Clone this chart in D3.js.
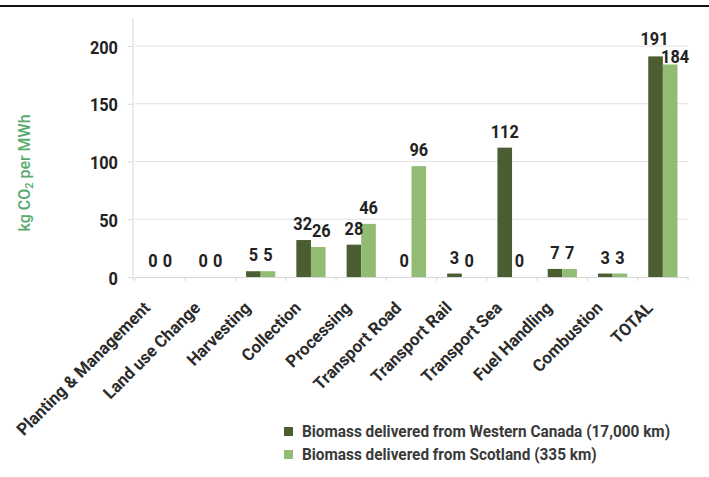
<!DOCTYPE html>
<html>
<head>
<meta charset="utf-8">
<script src="https://cdn.jsdelivr.net/npm/d3@7"></script>
<style>
  html, body { margin: 0; padding: 0; background: #fff; }
  svg { display: block; }
  text { font-family: Roboto, "DejaVu Sans Condensed", sans-serif; }
</style>
</head>
<body>
<svg id="chart" width="709" height="477"></svg>
<script>
// Emission stages (x axis)
const categories = [
  "Planting & Management", "Land use Change", "Harvesting", "Collection",
  "Processing", "Transport Road", "Transport Rail", "Transport Sea",
  "Fuel Handling", "Combustion", "TOTAL"
];
// kg CO2 per MWh for each supply route
const canadaValues   = [0, 0, 5, 32, 28, 0, 3, 112, 7, 3, 191];
const scotlandValues = [0, 0, 5, 26, 46, 96, 0, 0, 7, 3, 184];
const seriesNames = [
  "Biomass delivered from Western Canada (17,000 km)",
  "Biomass delivered from Scotland (335 km)"
];
const yTicks = [0, 50, 100, 150, 200];

const colors = ["#4b5e32", "#92bb73"];
const svg = d3.select("#chart");
const W = 709;
const m = { left: 135, right: 21, top: 18 };
const NARROW = 0.86;   // horizontal squeeze for a condensed look

// frame line along the top edge
svg.append("line").attr("x1", 0).attr("x2", W).attr("y1", 6).attr("y2", 6)
  .attr("stroke", "#111").attr("stroke-width", 2);

const x = d3.scaleBand().domain(categories).range([m.left, W - m.right]);
const y = d3.scaleLinear().domain([0, 200]).range([277, 46]);
const inner = d3.scaleBand().domain([0, 1]).range([0, x.bandwidth()]).paddingOuter(0.72);

// horizontal gridlines
svg.append("g").selectAll("line").data(yTicks.filter(d => d > 0)).join("line")
  .attr("x1", m.left).attr("x2", W - m.right)
  .attr("y1", d => y(d)).attr("y2", d => y(d))
  .attr("stroke", "#e2e2e2").attr("stroke-width", 1.2);

// y axis
const yAxis = d3.axisLeft(y).tickValues(yTicks).tickSize(5).tickFormat("");
const gy = svg.append("g").attr("transform", `translate(${m.left - 2},0)`).call(yAxis);
gy.select(".domain").attr("stroke", "#d8d8d8").attr("d", `M0,${m.top}V280`);
gy.selectAll(".tick line").attr("stroke", "#d8d8d8");
gy.selectAll(".tick").append("text")
  .attr("text-anchor", "end")
  .attr("transform", `translate(-15,7) scale(${NARROW},1)`)
  .attr("font-size", 19).attr("font-weight", "bold").attr("fill", "#222")
  .text(d => d);

// x axis
const gx = svg.append("g").attr("transform", `translate(0,${y(0)})`)
  .call(d3.axisBottom(x).tickSize(0).tickFormat(""));
gx.select(".domain").attr("stroke", "#d8d8d8").attr("stroke-width", 1.2);
// small tick marks at category boundaries
svg.append("g").selectAll("line").data(d3.range(categories.length + 1)).join("line")
  .attr("x1", i => m.left + i * x.step()).attr("x2", i => m.left + i * x.step())
  .attr("y1", y(0)).attr("y2", y(0) + 4)
  .attr("stroke", "#d8d8d8");

// rotated category labels
svg.append("g").selectAll("text").data(categories).join("text")
  .attr("text-anchor", "end")
  .attr("transform", d => `translate(${x(d) + x.bandwidth() / 2 - 9},${y(0) + 32}) rotate(-45) scale(0.98,1)`)
  .attr("font-size", 17).attr("font-weight", "bold").attr("fill", "#2b2b2b")
  .text(d => d);

// y axis title
svg.append("text")
  .attr("transform", "translate(30,173) rotate(-90)")
  .attr("text-anchor", "middle")
  .attr("font-size", 16).attr("font-weight", 500).attr("fill", "#5aaa6e")
  .html('kg CO<tspan font-size="11" dy="3">2</tspan><tspan dy="-3"> per MWh</tspan>');

// bars
const series = [canadaValues, scotlandValues];
series.forEach((vals, s) => {
  svg.append("g").selectAll("rect").data(vals).join("rect")
    .attr("x", (d, i) => x(categories[i]) + inner(s))
    .attr("width", inner.bandwidth())
    .attr("y", d => y(d))
    .attr("height", d => y(0) - y(d))
    .attr("fill", colors[s]);
});

// value labels, one pair per category; nudged apart where they collide
const labelG = svg.append("g");
const BOX = 18;
categories.forEach((c, i) => {
  const items = series.map((vals, s) => {
    const t = labelG.append("text")
      .attr("text-anchor", "middle")
      .attr("font-size", 19).attr("font-weight", "bold").attr("fill", "#222")
      .text(vals[i]);
    const w = t.node().getComputedTextLength() * NARROW;
    return { t, w, cx: x(c) + inner(s) + inner.bandwidth() / 2, base: y(vals[i]) - 10 };
  });
  const [a, b] = items;
  const hOverlap = (a.cx + a.w / 2) - (b.cx - b.w / 2);
  if (hOverlap > 0 && Math.abs(a.base - b.base) < 14) {
    a.cx -= 1; b.cx += 3;
    const rest = (a.cx + a.w / 2) - (b.cx - b.w / 2);
    if (rest > 2) {
      // stack them: the lower label drops onto its bar, the higher one lifts clear
      const [hi, lo] = a.base <= b.base ? [a, b] : [b, a];
      lo.base += 9; lo.cx += 2;
      const v = BOX - (lo.base - hi.base);
      if (v > 0) hi.base -= v;
    }
  }
  items.forEach(o => o.t.attr("transform", `translate(${o.cx},${o.base}) scale(${NARROW},1)`));
});

// legend
const lg = svg.append("g").attr("transform", "translate(284,0)");
seriesNames.forEach((name, i) => {
  const yy = 432 + i * 23;
  lg.append("rect").attr("x", 0).attr("y", yy - 5).attr("width", 9).attr("height", 9).attr("fill", colors[i]);
  lg.append("text").attr("transform", `translate(18,${yy + 5}) scale(0.96,1)`)
    .attr("font-size", 16).attr("font-weight", "bold").attr("fill", "#3a3a3a").text(name);
});
</script>
</body>
</html>
